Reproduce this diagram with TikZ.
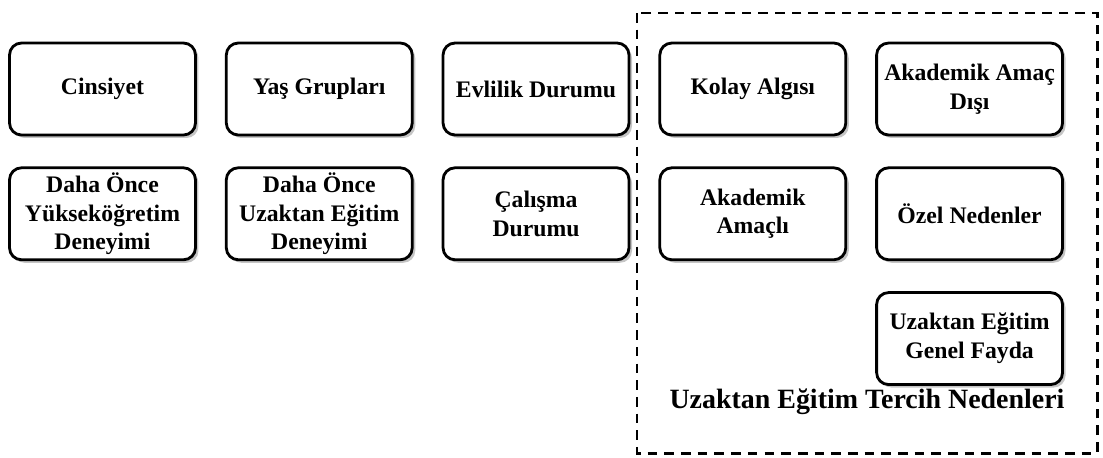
\documentclass[tikz,border=0pt]{standalone}
\usepackage{fontspec}
\setmainfont{Liberation Serif}[BoldFont={Liberation Serif Bold}]
\newfontfamily\kutufont{Liberation Serif Bold}
\usepackage{tikz}
\usetikzlibrary{positioning, shadows}

\begin{document}
\begin{tikzpicture}[x=0.02cm, y=-0.02cm, node distance=0.6cm and 0.56cm,
        kutu/.style={draw, rectangle, rounded corners=0.24cm, line width=1.6pt, fill=white,
            minimum width=3.72cm, minimum height=1.84cm, inner sep=1pt, align=center,
            font=\kutufont\fontsize{13.5}{16.4}\selectfont,
            drop shadow={shadow xshift=0.06cm, shadow yshift=-0.06cm, fill=black!45, opacity=0.5}},
        cerceve/.style={draw, line width=1.7pt, dash pattern=on 5.5pt off 4pt},
        baslik/.style={font=\kutufont\fontsize{15.9}{19}\selectfont}]
        \useasboundingbox (0,0) rectangle (1103,457);
        % Demografik degiskenler
        \node[kutu] (cins) at (102.5,89) {Cinsiyet};
        \node[kutu, right=of cins] (yas) {Yaş Grupları};
        \node[kutu, right=of yas] (evlilik) {Evlilik Durumu};
        \node[kutu, below=of cins] (yuksek) {Daha Önce\\Yükseköğretim\\Deneyimi};
        \node[kutu, below=of yas] (uzaktan) {Daha Önce\\Uzaktan Eğitim\\Deneyimi};
        \node[kutu, below=of evlilik] (calisma) {Çalışma\\Durumu};
        % Tercih nedenleri
        \node[kutu, right=of evlilik] (kolay) {Kolay Algısı};
        \node[kutu, right=of kolay] (amacdisi) {Akademik Amaç\\Dışı};
        \node[kutu, below=of kolay] (amacli) {Akademik\\Amaçlı};
        \node[kutu, below=of amacdisi] (ozel) {Özel Nedenler};
        \node[kutu, below=of ozel] (fayda) {Uzaktan Eğitim\\Genel Fayda};
        \node[baslik] (tercih) at (867,402) {Uzaktan Eğitim Tercih Nedenleri};

        \draw[cerceve] (637,13) rectangle (1097,453);
    \end{tikzpicture}
\end{document}
